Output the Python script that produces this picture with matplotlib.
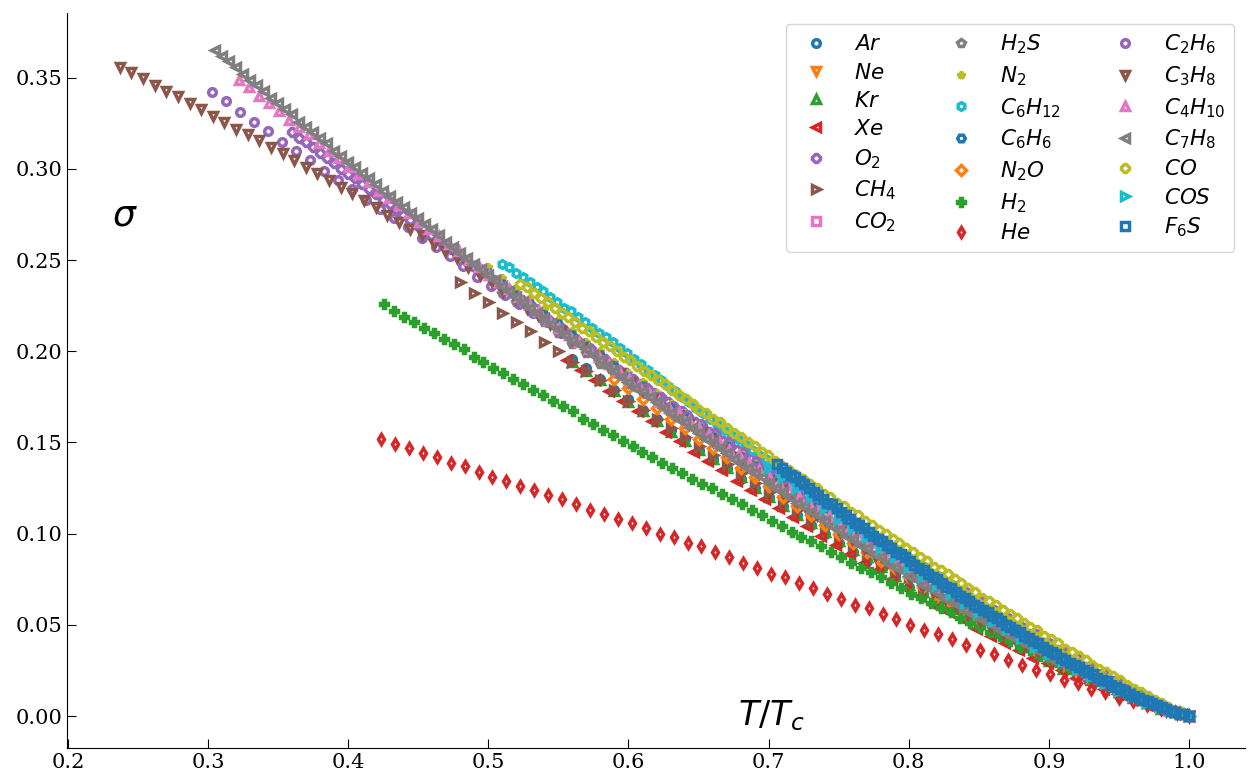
import numpy as np
import matplotlib
matplotlib.use('Agg')
import matplotlib.pyplot as plt

# Reduced surface tension sigma (in units of 1e-3).
# Each series runs from its first point (start, in T/Tc) to the critical
# point T/Tc = 1, points evenly spaced in T/Tc.

start_ar = 0.56
sigma_ar = [196, 191, 185, 179, 174, 168, 163, 157, 152, 146, 141, 136, 130,
            125, 120, 115, 110, 105, 100, 95, 90, 85, 81, 76, 71, 67, 62, 58,
            54, 49, 45, 41, 37, 33, 30, 26, 22, 19, 16, 13, 10, 7, 4, 2, 0]

start_ne = 0.56
sigma_ne = [206, 201, 195, 189, 183, 178, 172, 166, 161, 155, 150, 144, 139,
            133, 128, 123, 117, 112, 107, 102, 97, 92, 87, 82, 77, 72, 68, 63,
            58, 54, 50, 45, 41, 37, 32, 29, 25, 21, 17, 14, 10, 7, 4, 2, 0]

start_kr = 0.56
sigma_kr = [194, 189, 184, 178, 172, 167, 162, 156, 151, 146, 141, 136, 131,
            125, 120, 115, 110, 106, 101, 96, 91, 87, 82, 77, 72, 68, 64, 60,
            55, 51, 47, 43, 38, 34, 30, 26, 23, 20, 17, 13, 10, 7, 4, 2, 0]

start_xe = 0.556
sigma_xe = [195, 190, 184, 178, 173, 167, 162, 156, 151, 145, 140, 135, 129,
            124, 119, 114, 109, 104, 99, 94, 89, 84, 80, 75, 70, 66, 61, 57,
            53, 48, 44, 40, 36, 32, 29, 25, 21, 18, 15, 12, 9, 6, 4, 1, 0]

start_o2 = 0.36
sigma_o2 = [320, 317, 315, 312, 309, 306, 303, 300, 297, 295,
            292, 289, 286, 283, 281, 278, 275, 272, 269, 267,
            264, 261, 258, 256, 253, 250, 247, 245, 242, 239,
            236, 234, 231, 228, 225, 223, 220, 217, 215, 212,
            209, 206, 204, 201, 198, 196, 193, 190, 188, 185,
            182, 180, 177, 175, 172, 169, 167, 164, 161, 159,
            156, 154, 151, 148, 146, 143, 141, 138, 136, 133,
            131, 128, 126, 123, 121, 118, 115, 113, 110, 108,
            106, 103, 101, 98, 96, 93, 91, 89, 86, 84,
            81, 79, 77, 74, 72, 70, 67, 65, 63, 60,
            58, 56, 53, 51, 49, 47, 45, 42, 40, 38,
            36, 34, 31, 29, 27, 25, 23, 21, 19, 17,
            15, 13, 12, 10, 8, 6, 4, 3, 1, 0]

start_ch4 = 0.48
sigma_ch4 = [238, 232, 227, 221, 216, 211, 205, 200, 194, 189, 184, 179, 173,
             168, 163, 158, 153, 148, 143, 138, 133, 128, 123, 118, 113, 108,
             104, 99, 94, 89, 85, 80, 76, 71, 67, 62, 58, 54, 49, 45, 41, 37,
             33, 29, 25, 21, 18, 14, 11, 8, 5, 2, 0]

start_co2 = 0.72
sigma_co2 = [120, 115, 109, 104, 99, 94, 89, 84, 79, 74, 69, 64, 60, 55, 51,
             46, 42, 37, 33, 29, 25, 21, 18, 14, 11, 7, 5, 2, 0]

start_h2s = 0.51
sigma_h2s = [232, 227, 222, 216, 210, 204, 199, 193, 188, 182, 177, 172, 166,
             160, 156, 150, 145, 139, 134, 129, 124, 119, 114, 108, 104, 99,
             94, 89, 84, 80, 75, 70, 65, 60, 57, 52, 48, 43, 39, 35, 31, 27,
             22, 18, 15, 12, 8, 5, 2, 0]

start_n2 = 0.50
sigma_n2 = [246, 240, 234, 229, 223, 217, 211, 205, 200, 194, 188, 183, 177,
            171, 166, 160, 155, 150, 144, 139, 133, 128, 123, 118, 112, 107,
            102, 97, 92, 87, 82, 77, 72, 68, 63, 58, 54, 49, 45, 40, 36, 31,
            27, 23, 19, 16, 12, 8, 5, 2, 0]

start_c6h12 = 0.5096
sigma_c6h12 = [248, 246, 243, 241, 238, 235, 233, 230, 227, 224,
               222, 219, 216, 213, 210, 208, 205, 202, 199, 196,
               193, 190, 187, 184, 181, 178, 175, 172, 169, 166,
               163, 160, 157, 154, 152, 149, 146, 143, 141, 138,
               134, 132, 129, 126, 124, 121, 118, 116, 113, 110,
               107, 104, 102, 99, 96, 94, 91, 89, 86, 84,
               81, 79, 76, 74, 71, 69, 67, 64, 62, 59,
               57, 55, 52, 50, 48, 46, 43, 41, 39, 36,
               34, 32, 30, 28, 26, 24, 22, 20, 18, 16,
               14, 12, 11, 9, 7, 5, 4, 2, 1, 0]

start_c6h6 = 0.50
sigma_c6h6 = [243, 237, 231, 226, 220, 215, 209, 203, 198, 192, 186, 181, 175,
              169, 164, 158, 153, 148, 142, 137, 132, 127, 122, 117, 111, 106,
              101, 96, 91, 86, 81, 76, 71, 67, 62, 57, 53, 48, 44, 40, 36, 31,
              27, 23, 19, 16, 12, 8, 5, 2, 0]

start_n2o = 0.59
sigma_n2o = [185, 180, 174, 169, 163, 158, 152, 147, 142, 136, 131, 126, 120,
             115, 110, 105, 100, 95, 90, 85, 81, 76, 71, 66, 62, 57, 53, 49,
             44, 40, 36, 32, 28, 24, 20, 17, 13, 10, 7, 4, 2, 0]

start_h2 = 0.4256
sigma_h2 = [226, 222, 219, 216, 213,
            210, 207, 204, 201, 197, 194, 191,
            188, 185, 182, 179, 176, 173, 170,
            167, 163, 160, 157, 154, 151, 148,
            145, 142, 139, 136, 133, 130, 127,
            125, 122, 119, 116, 113, 110, 107,
            104, 101, 98, 96, 93, 90, 87,
            84, 81, 79, 76, 73, 70, 67,
            65, 62, 59, 57, 54, 51, 49,
            46, 44, 41, 38, 36, 33, 31,
            28, 26, 24, 21, 19, 16, 14,
            12, 9, 7, 5, 3, 2, 0]

start_he = 0.4234
sigma_he = [152, 149, 147, 144, 142, 139, 137, 134, 131, 129, 126, 124, 121,
            119, 116, 113, 111, 108, 106, 103, 100, 98, 95, 93, 90, 87, 84, 81,
            78, 76, 73, 70, 67, 64, 61, 59, 56, 53, 50, 47, 45, 42, 39, 36, 34,
            31, 28, 25, 23, 20, 18, 15, 13, 10, 8, 6, 4, 2, 0]

start_c2h6 = 0.303
sigma_c2h6 = [342, 337, 331, 326, 321, 315, 310, 305, 299, 294, 289, 283, 278,
              273, 268, 262, 257, 252, 247, 241, 236, 231, 226, 221, 216, 210,
              205, 200, 195, 190, 185, 180, 175, 170, 165, 160, 155, 150, 145,
              140, 135, 130, 125, 120, 115, 110, 105, 101, 96, 91, 86, 82, 77,
              72, 68, 63, 58, 54, 49, 45, 40, 36, 32, 27, 23, 19, 15, 11, 7, 3,
              0]

start_c3h8 = 0.237
sigma_c3h8 = [356, 353, 350,
              346, 343, 340, 336, 333, 329,
              326, 322, 319, 316, 312, 309,
              305, 301, 298, 294, 290, 287,
              283, 279, 275, 271, 267, 264,
              259, 255, 251, 246, 242, 238,
              233, 229, 224, 220, 215, 211,
              206, 201, 197, 192, 188, 183,
              178, 174, 169, 165, 160, 156,
              151, 146, 142, 137, 133, 128,
              124, 119, 115, 110, 106, 101,
              97, 92, 88, 84, 79, 75,
              71, 68, 64, 60, 56, 52,
              49, 45, 42, 39, 35, 32,
              28, 25, 22, 19, 16, 13,
              11, 8, 6, 3, 1, 0]

start_c4h10 = 0.322
sigma_c4h10 = [349, 345, 340, 336, 332,
               327, 323, 319, 314, 310, 306, 301,
               297, 293, 288, 284, 280, 276, 271,
               267, 263, 259, 255, 250, 246, 242,
               238, 234, 230, 226, 222, 217, 213,
               209, 205, 201, 197, 193, 189, 185,
               181, 177, 173, 169, 166, 162, 158,
               154, 150, 146, 143, 139, 135, 131,
               127, 124, 120, 116, 113, 109, 105,
               102, 98, 95, 91, 88, 84, 81,
               77, 74, 71, 67, 64, 61, 57,
               54, 51, 48, 45, 41, 38, 35,
               32, 29, 26, 23, 21, 18, 15,
               13, 10, 8, 6, 3, 2, 0]

start_c7h8 = 0.305
sigma_c7h8 = [365, 362, 359, 356, 352, 349, 346, 343, 339, 336,
              333, 330, 326, 323, 320, 317, 314, 310, 307, 304,
              301, 298, 295, 292, 288, 285, 282, 279, 276, 273,
              270, 267, 264, 260, 257, 254, 251, 248, 245, 242,
              239, 236, 233, 230, 227, 224, 221, 218, 215, 212,
              209, 206, 204, 201, 198, 195, 192, 189, 186, 183,
              180, 178, 175, 172, 169, 166, 163, 161, 158, 155,
              152, 150, 147, 144, 141, 139, 136, 133, 131, 128,
              125, 123, 120, 117, 115, 112, 110, 107, 104, 102,
              99, 97, 94, 92, 89, 87, 84, 82, 80, 77,
              75, 72, 70, 68, 65, 63, 61, 58, 56, 54,
              52, 50, 47, 45, 43, 41, 39, 37, 35, 32,
              30, 29, 27, 25, 23, 21, 19, 17, 15, 14,
              12, 10, 9, 7, 6, 4, 3, 2, 1, 0]

start_co = 0.5227
sigma_co = [237, 235, 232, 229, 227, 224, 221, 219,
            216, 213, 211, 208, 205, 203, 200, 197, 195, 192,
            189, 187, 184, 182, 179, 176, 174, 171, 168, 166,
            163, 161, 158, 155, 153, 150, 148, 145, 143, 140,
            137, 135, 132, 130, 127, 125, 122, 120, 117, 115,
            112, 110, 107, 105, 102, 100, 97, 95, 92, 90,
            87, 85, 82, 80, 78, 75, 73, 70, 68, 65,
            63, 61, 58, 56, 54, 51, 49, 47, 44, 42,
            40, 37, 35, 33, 31, 28, 26, 24, 22, 20,
            17, 15, 13, 11, 9, 7, 5, 3, 2, 0]

start_cos = 0.70
sigma_cos = [136, 131, 125, 120, 114, 108, 103, 98, 92, 87, 82, 77, 72, 67,
             62, 57, 52, 48, 43, 38, 34, 30, 26, 22, 18, 14, 11, 7, 5, 2, 0]

start_f6s = 0.706
sigma_f6s = [138,
             136, 134, 132, 131, 129, 127, 125, 123, 121, 119, 117, 116, 114, 112, 110,
             108, 106, 105, 103, 101, 99, 97, 96, 94, 92, 90, 89, 87, 85, 83,
             81, 80, 78, 76, 75, 73, 71, 70, 68, 66, 65, 63, 61, 60, 58,
             57, 55, 54, 52, 50, 49, 47, 46, 44, 43, 41, 40, 38, 36, 35,
             34, 32, 31, 29, 28, 27, 25, 24, 23, 21, 20, 19, 17, 16, 15,
             14, 12, 11, 10, 9, 8, 7, 6, 5, 4, 3, 2, 1, 1, 0]

series = [
    ('$Ar$', start_ar, sigma_ar, 'o'),
    ('$Ne$', start_ne, sigma_ne, 'v'),
    ('$Kr$', start_kr, sigma_kr, '^'),
    ('$Xe$', start_xe, sigma_xe, '<'),
    ('$O_2$', start_o2, sigma_o2, '8'),
    ('$CH_4$', start_ch4, sigma_ch4, '>'),
    ('$CO_2$', start_co2, sigma_co2, 's'),
    ('$H_2S$', start_h2s, sigma_h2s, 'p'),
    ('$N_2$', start_n2, sigma_n2, '*'),
    ('$C_6H_{12}$', start_c6h12, sigma_c6h12, 'h'),
    ('$C_6H_6$', start_c6h6, sigma_c6h6, 'H'),
    ('$N_2O$', start_n2o, sigma_n2o, 'D'),
    ('$H_2$', start_h2, sigma_h2, 'P'),
    ('$He$', start_he, sigma_he, 'd'),
    ('$C_2H_6$', start_c2h6, sigma_c2h6, 'o'),
    ('$C_3H_8$', start_c3h8, sigma_c3h8, 'v'),
    ('$C_4H_{10}$', start_c4h10, sigma_c4h10, '^'),
    ('$C_7H_8$', start_c7h8, sigma_c7h8, '<'),
    ('$CO$', start_co, sigma_co, '8'),
    ('$COS$', start_cos, sigma_cos, '>'),
    ('$F_6S$', start_f6s, sigma_f6s, 's'),
]


def main():
    fig, ax = plt.subplots(figsize=(12.57, 7.78), dpi=100)
    fig.subplots_adjust(left=0.0533, right=0.9905, bottom=0.0386, top=0.9833)

    for i, (label, t0, sig, marker) in enumerate(series):
        sig = np.array(sig) / 1000.0
        tr = np.linspace(t0, 1.0, len(sig))
        ax.plot(tr, sig, ls='none', marker=marker, ms=5.5, mew=2.5,
                mfc='none', color='C%d' % (i % 10), label=label)

    ax.set_xlim(0.1993, 1.040)
    ax.set_ylim(-0.0175, 0.3855)
    ax.spines['top'].set_visible(False)
    ax.spines['right'].set_visible(False)
    ax.tick_params(direction='in', length=6.5, labelsize=15,
                   labelfontfamily='DejaVu Serif')

    ax.text(0.049, 0.725, r'$\sigma$', transform=ax.transAxes,
            fontsize=26, ha='center', va='center')
    ax.text(0.598, 0.0435, r'$T/T_c$', transform=ax.transAxes,
            fontsize=24, ha='center', va='center')

    ax.legend(ncol=3, fontsize=15.5, loc='upper right', labelspacing=0.38)
    fig.savefig('out.png')


if __name__ == '__main__':
    main()
